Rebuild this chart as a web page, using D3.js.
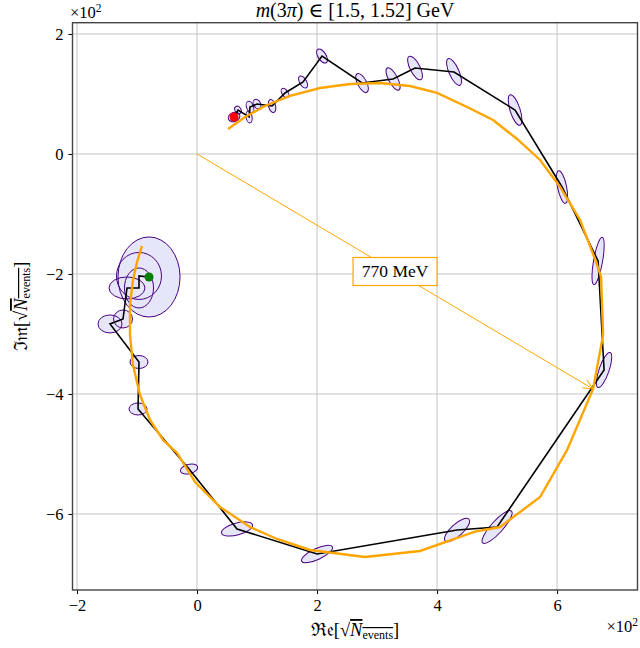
<!DOCTYPE html>
<html><head><meta charset="utf-8">
<script src="https://cdn.jsdelivr.net/npm/d3@7"></script>
<style>body{margin:0;background:#fff}</style>
</head><body><svg id="c" width="640" height="648"></svg>
<script>
// measured points (Re, Im) in sqrt(N_events)
const pointRe = [61.7, 68.3, 86.7, 88.3, 100, 125, 146.7, 176.7, 208.3, 275, 326.7, 363.3, 428.3, 530, 608.3, 668.3, 678.3, 500, 433.3, 200, 66.7, -13.3, -98.3, -96.7, -145, -123.3, -116.7, -96.7, -96.7, -80];
const pointIm = [61.7, 73.3, 61.7, 78.3, 83.3, 80, 101.7, 120, 163.3, 118.3, 125, 143.3, 136.7, 73.3, -55, -178.3, -360, -621.7, -626.7, -666.7, -625, -525, -425, -346.7, -283.3, -275, -223.3, -223.3, -203.3, -205];
// error ellipses: semi-axes in data units, rotation in degrees
const errMajor = [10, 6.7, 10, 10, 8.3, 11.2, 8.8, 11.2, 13.3, 17.5, 20.8, 21.7, 24.2, 26.7, 27.8, 40, 30.8, 35.8, 26.7, 28.3, 26.7, 14.7, 15, 15, 20, 15.8, 30, 33.3, 39.2, 66.7];
const errMinor = [7.5, 5, 5, 5.8, 5.8, 5.8, 5, 5.8, 6.7, 7.5, 7.5, 8.3, 8.3, 8.3, 7.5, 7.5, 8.3, 10, 10, 9.2, 10, 7.8, 10, 10.8, 15, 15, 18.3, 24.2, 37.5, 51.7];
const errAngle = [-20, 60, 80, 70, 60, 75, 55, 60, 58, 62, 62, 63, 66, 72, 78, 100, 109, -48, -42, -25, -15, -15, 0, 0, 0, 0, 0, 90, 90, 90];
// model curve
const modelRe = [51.7, 80, 113.3, 155, 205, 255, 305, 355, 400, 450, 493.3, 533.3, 571.7, 605, 638.3, 665, 673.3, 676.7, 660, 616.7, 571.7, 505, 463.3, 371.7, 280, 188.3, 133.3, 88.3, 38.3, -3.3, -33.3, -56.7, -78.3, -95, -106.7, -111.7, -111.7, -106.7, -100, -91.7];
const modelIm = [41.7, 61.7, 80, 96.7, 110, 116.7, 118.3, 113.3, 101.7, 78.3, 56.7, 25, -10, -55, -110, -180, -205, -301.7, -391.7, -493.3, -571.7, -621.7, -629.4, -661.7, -671.7, -660, -641.7, -621.7, -588.3, -546.7, -498.3, -476.7, -443.3, -401.7, -351.7, -301.7, -251.7, -210, -180, -153.3];
const xTicks = [-200, 0, 200, 400, 600];
const xTickLabels = ["−2", "0", "2", "4", "6"];
const yTicks = [200, 0, -200, -400, -600];
const yTickLabels = ["2", "0", "−2", "−4", "−6"];
const annLabel = "770 MeV";
const annRe = 660, annIm = -391.7;

const svg = d3.select("#c");
const L = 72.5, R = 637.5, T = 22.7, B = 590;
const x = d3.scaleLinear().domain([-207.5, 734]).range([L, R]);
const y = d3.scaleLinear().domain([-726.7, 218.8]).range([B, T]);
const serif = "'Liberation Serif', 'DejaVu Serif', serif";

const defs = svg.append("defs");
defs.append("clipPath").attr("id", "clip").append("rect")
  .attr("x", L).attr("y", T).attr("width", R - L).attr("height", B - T);
defs.append("marker").attr("id", "arr").attr("viewBox", "0 0 12 12")
  .attr("refX", 11).attr("refY", 6).attr("markerWidth", 12).attr("markerHeight", 12)
  .attr("markerUnits", "userSpaceOnUse").attr("orient", "auto")
  .append("path").attr("d", "M1,1.5 L11,6 L1,10.5").attr("fill", "none")
  .attr("stroke", "orange").attr("stroke-width", 1);

// grid
const grid = svg.append("g").attr("stroke", "#c4c4c4").attr("stroke-width", 1);
xTicks.forEach(v => grid.append("line").attr("x1", x(v)).attr("x2", x(v)).attr("y1", T).attr("y2", B));
yTicks.forEach(v => grid.append("line").attr("y1", y(v)).attr("y2", y(v)).attr("x1", L).attr("x2", R));

// axes
const ax = svg.append("g").attr("transform", `translate(0,${B})`)
  .call(d3.axisBottom(x).tickValues(xTicks).tickFormat((d, i) => xTickLabels[i]).tickSize(4).tickSizeOuter(0).tickPadding(5));
const ay = svg.append("g").attr("transform", `translate(${L},0)`)
  .call(d3.axisLeft(y).tickValues(yTicks).tickFormat((d, i) => yTickLabels[i]).tickSize(4).tickSizeOuter(0).tickPadding(5));
[ax, ay].forEach(a => {
  a.select(".domain").remove();
  a.selectAll("text").attr("font-family", serif).attr("font-size", 16.5).attr("fill", "#000");
  a.selectAll("line").attr("stroke", "#000").attr("stroke-width", 1);
});

const plot = svg.append("g").attr("clip-path", "url(#clip)");
// ellipses: fills first, then outlines
const idx = d3.range(pointRe.length);
const ellTf = i => `translate(${x(pointRe[i])},${y(pointIm[i])}) rotate(${errAngle[i]})`;
["fill", "outline"].forEach(kind => {
  plot.append("g").selectAll("ellipse").data(idx).join("ellipse")
    .attr("cx", 0).attr("cy", 0)
    .attr("rx", i => x(errMajor[i]) - x(0))
    .attr("ry", i => x(errMinor[i]) - x(0))
    .attr("transform", ellTf)
    .attr("fill", kind === "fill" ? "#e6e6fa" : "none")
    .attr("stroke", kind === "fill" ? "none" : "#4b0082").attr("stroke-width", 1);
});

// data line
plot.append("path").datum(idx)
  .attr("d", d3.line().x(i => x(pointRe[i])).y(i => y(pointIm[i])))
  .attr("fill", "none").attr("stroke", "#000").attr("stroke-width", 1.6).attr("stroke-linejoin", "miter");

// model line
plot.append("path").datum(d3.range(modelRe.length))
  .attr("d", d3.line().x(i => x(modelRe[i])).y(i => y(modelIm[i])))
  .attr("fill", "none").attr("stroke", "orange").attr("stroke-width", 2.4);

// start / end markers
plot.append("circle").attr("cx", x(pointRe[0])).attr("cy", y(pointIm[0])).attr("r", 4.5).attr("fill", "red");
const n = pointRe.length - 1;
plot.append("circle").attr("cx", x(pointRe[n])).attr("cy", y(pointIm[n])).attr("r", 4.5).attr("fill", "green");

// annotation
plot.append("line").attr("x1", x(0)).attr("y1", y(0)).attr("x2", x(annRe)).attr("y2", y(annIm))
  .attr("stroke", "orange").attr("stroke-width", 1).attr("marker-end", "url(#arr)");
const mx = (x(0) + x(annRe)) / 2, my = (y(0) + y(annIm)) / 2;
svg.append("rect").attr("x", mx - 42).attr("y", my - 14).attr("width", 84).attr("height", 28)
  .attr("fill", "#fff").attr("stroke", "orange").attr("stroke-width", 1.2);
svg.append("text").attr("x", mx).attr("y", my + 6).attr("text-anchor", "middle")
  .attr("font-family", serif).attr("font-size", 17.5).text(annLabel);

// frame
svg.append("rect").attr("x", L).attr("y", T).attr("width", R - L).attr("height", B - T)
  .attr("fill", "none").attr("stroke", "#444").attr("stroke-width", 1.4);

// title
const tt = svg.append("text").attr("x", (L + R) / 2).attr("y", 17).attr("text-anchor", "middle")
  .attr("font-family", serif).attr("font-size", 20);
tt.append("tspan").attr("font-style", "italic").text("m");
tt.append("tspan").text("(3");
tt.append("tspan").attr("font-style", "italic").text("π");
tt.append("tspan").text(") ∈ [1.5, 1.52] GeV");

// offset texts
svg.append("text").attr("x", 70).attr("y", 18).attr("font-family", serif).attr("font-size", 16.5)
  .text("×10").append("tspan").attr("dy", -6).attr("font-size", 11.5).text("2");
svg.append("text").attr("x", 638).attr("y", 632).attr("text-anchor", "end").attr("font-family", serif).attr("font-size", 16.5)
  .text("×10").append("tspan").attr("dy", -6).attr("font-size", 11.5).text("2");

// axis labels
function axisLabel(sel, pre) {
  sel.append("tspan").text(pre + "[√");
  sel.append("tspan").attr("font-style", "italic").attr("text-decoration", "overline").text("N");
  sel.append("tspan").attr("font-size", 12).attr("dy", 3).attr("text-decoration", "overline").text("events");
  sel.append("tspan").attr("dy", -3).text("]");
}
const xl = svg.append("text").attr("x", (L + R) / 2).attr("y", 636).attr("text-anchor", "middle")
  .attr("font-family", serif).attr("font-size", 18.5);
axisLabel(xl, "ℜ𝔢");
const yl = svg.append("text").attr("transform", `translate(27,${(T + B) / 2}) rotate(-90)`).attr("text-anchor", "middle")
  .attr("font-family", serif).attr("font-size", 18.5);
axisLabel(yl, "ℑ𝔪");
</script></body></html>
